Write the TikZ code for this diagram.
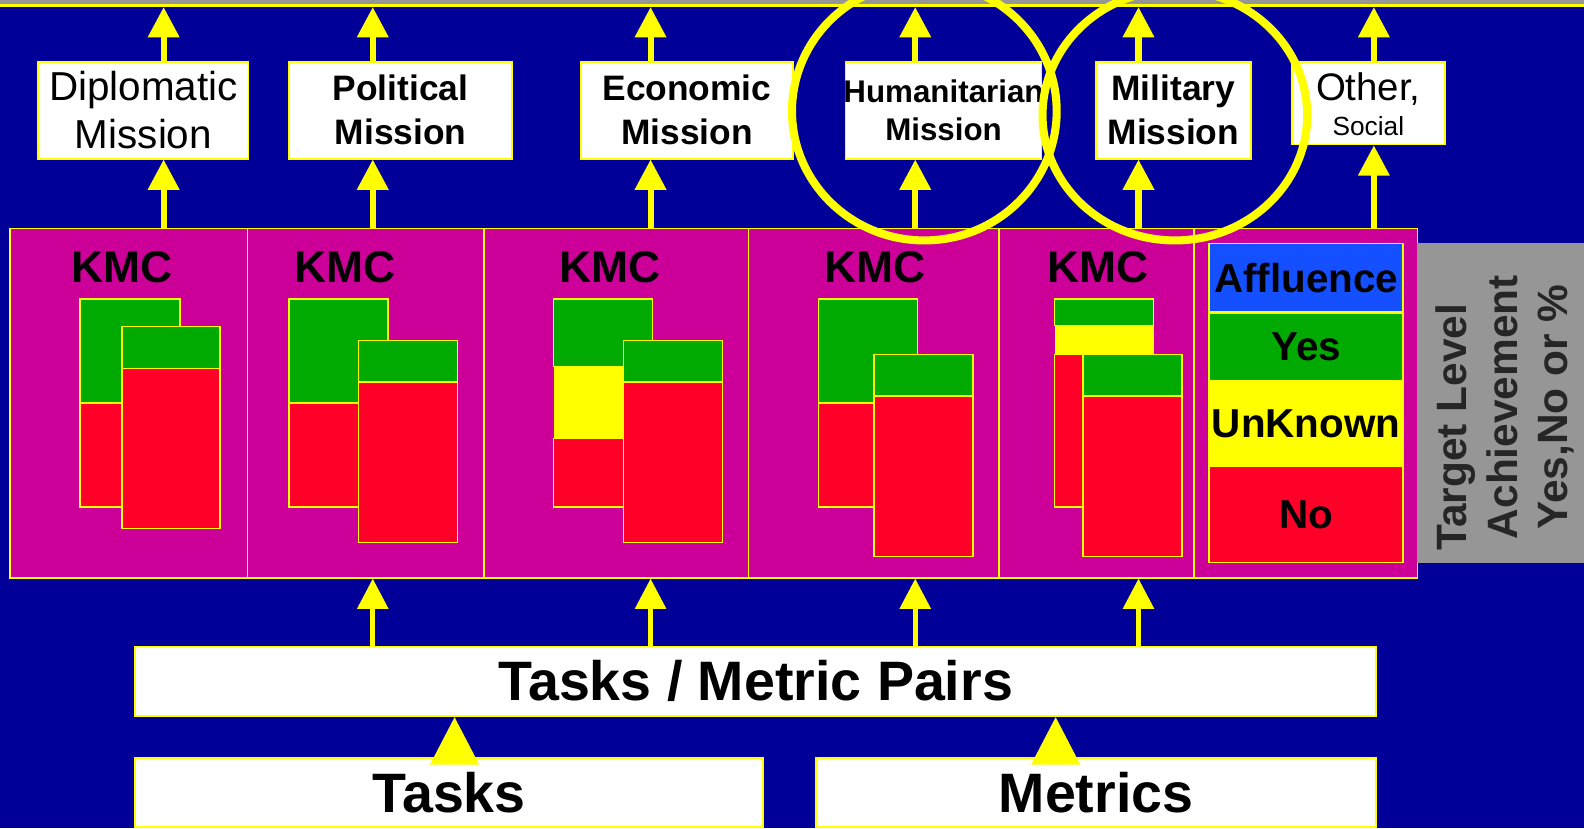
\documentclass[tikz,border=0pt]{standalone}
\usepackage{fontspec}
\setmainfont{Liberation Sans}
\usetikzlibrary{arrows.meta}
\definecolor{bg}{RGB}{0,0,153}
\definecolor{yel}{RGB}{255,255,0}
\definecolor{mag}{RGB}{204,0,153}
\definecolor{grn}{RGB}{0,170,0}
\definecolor{rd}{RGB}{255,0,40}
\definecolor{blu}{RGB}{20,80,255}
\definecolor{gry}{RGB}{150,150,150}
\newcommand{\fs}[2]{\fontsize{#1}{#2}\selectfont}
\tikzset{
  mbox/.style={draw=yel, fill=white, line width=1.8pt, inner sep=0pt, align=center, text=black},
  panel/.style={draw=yel, fill=mag, line width=1.5pt, inner sep=0pt},
  seg/.style={draw=yel, line width=1.5pt},
  uparrow/.style={draw=yel, line width=6pt, -{Triangle[length=30pt,width=30pt]}},
  lowarrow/.style={draw=yel, line width=5pt, -{Triangle[length=30pt,width=30pt]}},
  bigarrow/.style={draw=yel, line width=3pt, -{Triangle[length=47pt,width=48pt]}},
  kmc/.style={font=\bfseries\fs{44}{50}, text=black, inner sep=0pt},
  legend/.style={draw=yel, line width=1.5pt, inner sep=0pt, minimum width=192pt, text=black, font=\bfseries\fs{40}{46}},
  ring/.style={draw=yel, line width=8pt}
}
\begin{document}
\begin{tikzpicture}[x=1pt,y=-1pt]
\useasboundingbox (0,0) rectangle (1568,820);
\fill[bg] (0,0) rectangle (1568,820);
\fill[gry] (0,0) rectangle (1568,5);
\draw[yel, line width=2.5pt] (0,5.5) -- (1568,5.5);

% mission boxes
\node[mbox, minimum width=208pt, minimum height=96pt, font=\fs{40}{48}] (dip) at (142,109) {Diplomatic\\Mission};
\node[mbox, minimum width=221pt, minimum height=96pt, font=\bfseries\fs{35}{44}] (pol) at (396.5,109) {Political\\Mission};
\node[mbox, minimum width=210pt, minimum height=96pt, font=\bfseries\fs{35}{44}] (eco) at (680,109) {Economic\\Mission};
\node[mbox, minimum width=194pt, minimum height=96pt, font=\bfseries\fs{31}{38}] (hum) at (934,109) {\makebox[0pt]{Humanitarian}\\Mission};
\node[mbox, minimum width=153pt, minimum height=96pt, font=\bfseries\fs{35}{44}] (mil) at (1161.5,109) {Military\\Mission};
\node[mbox, minimum width=151pt, minimum height=82pt] (oth) at (1354.5,102) {};
\node[inner sep=0pt, align=center, text=black, anchor=north] (othtext) at (1354.5,72) {\fs{38}{38}Other,\\[10pt]\fs{26}{30}Social};

% KMC panel sections
\node[panel, minimum width=235pt, minimum height=346pt] (s1) at (127.5,399) {};
\node[panel, minimum width=234pt, minimum height=346pt] (s2) at (362,399) {};
\node[panel, minimum width=262pt, minimum height=346pt] (s3) at (610,399) {};
\node[panel, minimum width=248pt, minimum height=346pt] (s4) at (865,399) {};
\node[panel, minimum width=193pt, minimum height=346pt] (s5) at (1085.5,399) {};
\node[panel, minimum width=221pt, minimum height=346pt] (s6) at (1292.5,399) {};

\node[kmc] (k1) at (121,264) {KMC};
\node[kmc] (k2) at (342,264) {KMC};
\node[kmc] (k3) at (604,264) {KMC};
\node[kmc] (k4) at (866,264) {KMC};
\node[kmc] (k5) at (1087,264) {KMC};

% bars section 1
\filldraw[seg, fill=grn] (79,296) rectangle (178,399);
\filldraw[seg, fill=rd] (79,399) rectangle (178,502);
\filldraw[seg, fill=grn] (121,323) rectangle (218,365);
\filldraw[seg, fill=rd] (121,365) rectangle (218,523);
% section 2
\filldraw[seg, fill=grn] (286,296) rectangle (384,399);
\filldraw[seg, fill=rd] (286,399) rectangle (384,502);
\filldraw[seg, fill=grn] (355,337) rectangle (453,378);
\filldraw[seg, fill=rd] (355,378) rectangle (453,537);
% section 3
\filldraw[seg, fill=grn] (548,296) rectangle (646,363);
\fill[yel] (548,363) rectangle (646,434);
\filldraw[seg, fill=rd] (548,434) rectangle (646,502);
\filldraw[seg, fill=grn] (617,337) rectangle (715,378);
\filldraw[seg, fill=rd] (617,378) rectangle (715,537);
% section 4
\filldraw[seg, fill=grn] (810,296) rectangle (908,399);
\filldraw[seg, fill=rd] (810,399) rectangle (908,502);
\filldraw[seg, fill=grn] (865,351) rectangle (963,392);
\filldraw[seg, fill=rd] (865,392) rectangle (963,551);
% section 5
\filldraw[seg, fill=grn] (1044,296) rectangle (1142,322);
\fill[yel] (1044,322) rectangle (1142,351);
\filldraw[seg, fill=rd] (1044,351) rectangle (1142,502);
\filldraw[seg, fill=grn] (1072,351) rectangle (1170,392);
\filldraw[seg, fill=rd] (1072,392) rectangle (1170,551);

% legend
\node[legend, fill=blu, minimum height=68pt] (aff) at (1293,275) {Affluence};
\node[legend, fill=grn, minimum height=67pt] (yes) at (1293,343.5) {Yes};
\node[legend, fill=yel, minimum height=85pt] (unk) at (1293,419.5) {UnKnown};
\node[legend, fill=rd, minimum height=95pt] (no) at (1293,509.5) {No};

% gray side box
\fill[gry] (1403,241) rectangle (1568,557);
\node[rotate=90, align=center, inner sep=0pt, text=black!85, font=\bfseries\fs{42}{50}] (tla) at (1490,403) {Target Level\hspace*{40pt}\\Achievement\\Yes,No or \%};

% bottom boxes
\node[mbox, minimum width=1228pt, minimum height=69pt, font=\bfseries\fs{55}{60}] (pairs) at (748,674.5) {Tasks / Metric Pairs};
\node[mbox, minimum width=621pt, minimum height=69pt, font=\bfseries\fs{55}{60}] (tasks) at (444.5,784.5) {Tasks};
\node[mbox, minimum width=554pt, minimum height=69pt, font=\bfseries\fs{55}{60}] (metrics) at (1085,784.5) {Metrics};

% top free ends
\coordinate (t1) at (162,7);
\coordinate (t2) at (369,7);
\coordinate (t3) at (644,7);
\coordinate (t4) at (906,7);
\coordinate (t5) at (1127,7);
\coordinate (t6) at (1360,7);

% arrows panel -> missions -> top
\draw[uparrow] (162,0 |- s1.north) -- (162,0 |- dip.south);
\draw[uparrow] (369,0 |- s2.north) -- (369,0 |- pol.south);
\draw[uparrow] (644,0 |- s3.north) -- (644,0 |- eco.south);
\draw[uparrow] (906,0 |- s4.north) -- (906,0 |- hum.south);
\draw[uparrow] (1127,0 |- s5.north) -- (1127,0 |- mil.south);
\draw[uparrow] (1360,0 |- s6.north) -- (1360,0 |- oth.south);
\draw[uparrow] (162,0 |- dip.north) -- (t1);
\draw[uparrow] (369,0 |- pol.north) -- (t2);
\draw[uparrow] (644,0 |- eco.north) -- (t3);
\draw[uparrow] (906,0 |- hum.north) -- (t4);
\draw[uparrow] (1127,0 |- mil.north) -- (t5);
\draw[uparrow] (1360,0 |- oth.north) -- (t6);

% pairs -> panel
\draw[lowarrow] (369,0 |- pairs.north) -- (369,0 |- s2.south);
\draw[lowarrow] (644,0 |- pairs.north) -- (644,0 |- s3.south);
\draw[lowarrow] (906,0 |- pairs.north) -- (906,0 |- s4.south);
\draw[lowarrow] (1127,0 |- pairs.north) -- (1127,0 |- s5.south);

% tasks/metrics -> pairs
\draw[bigarrow] (450,0 |- tasks.north) -- (450,0 |- pairs.south);
\draw[bigarrow] (1045,0 |- metrics.north) -- (1045,0 |- pairs.south);

% highlight rings
\draw[ring] (915,110) ellipse [x radius=131pt, y radius=128pt];
\draw[ring] (1163,114) ellipse [x radius=131pt, y radius=124pt];
\end{tikzpicture}
\end{document}
